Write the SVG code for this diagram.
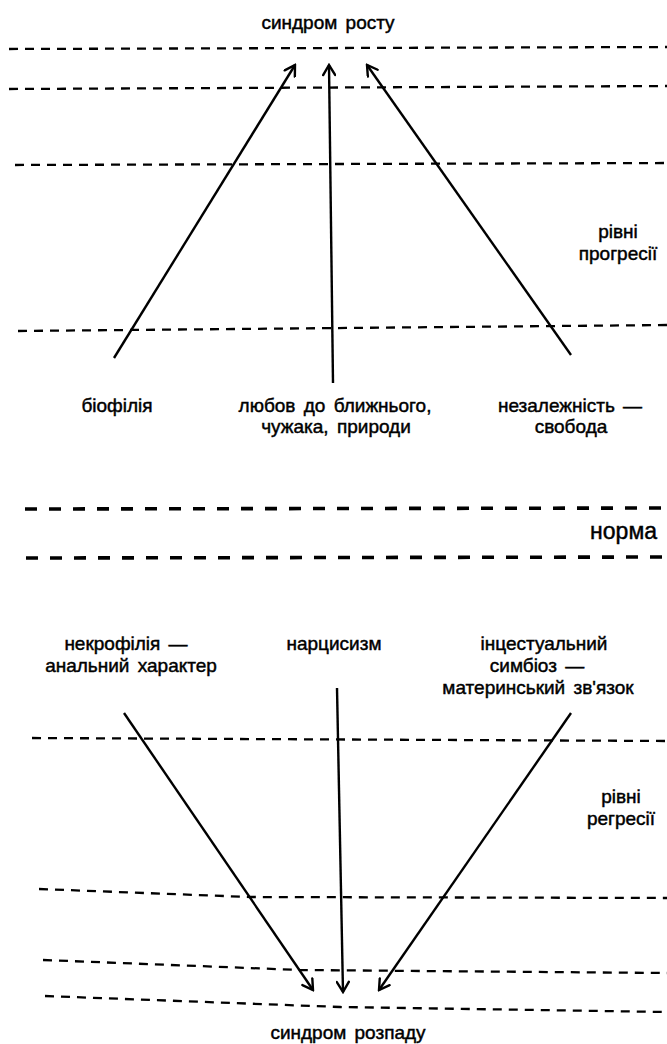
<svg xmlns="http://www.w3.org/2000/svg" width="667" height="1044" viewBox="0 0 667 1044">
<style>
.bg{fill:#fff}
.lvl{fill:none;stroke:#000;stroke-width:2.3;stroke-dasharray:9 7}
.nrm{fill:none;stroke:#000;stroke-width:3.6;stroke-dasharray:12 12}
.arr{fill:none;stroke:#000;stroke-width:2.4;marker-end:url(#ah)}
text{font-family:"Liberation Sans",Arial,sans-serif;font-size:19px;fill:#000;stroke:#000;stroke-width:0.45;text-anchor:middle;word-spacing:3px}
.big{font-size:23px}
</style>
<defs>
<marker id="ah" viewBox="0 0 14 14" refX="12" refY="7" markerWidth="14" markerHeight="14" markerUnits="userSpaceOnUse" orient="auto">
<path d="M2 1 L12 7 L2 13" fill="none" stroke="#000" stroke-width="2.4" stroke-linecap="round" stroke-linejoin="miter"/>
</marker>
</defs>
<rect class="bg" x="0" y="0" width="667" height="1044"/>
<g id="levels">
<path class="lvl" d="M9 49 L667 47"/>
<path class="lvl" d="M9 89 L667 86"/>
<path class="lvl" d="M15 165 L667 163"/>
<path class="lvl" d="M18 331 L667 325"/>
<path class="nrm" d="M25 509 L667 508"/>
<path class="nrm" d="M26 558 L667 557"/>
<path class="lvl" d="M32 738 L667 741"/>
<path class="lvl" d="M39 889 L250 897 L667 898"/>
<path class="lvl" d="M43 960 L300 970 L667 973"/>
<path class="lvl" d="M45 996 L340 1007 L667 1012"/>
</g>
<g id="connectors">
<line class="arr" x1="114" y1="358" x2="295" y2="65"/>
<line class="arr" x1="333" y1="383" x2="329" y2="65"/>
<line class="arr" x1="571" y1="355" x2="367" y2="65"/>
<line class="arr" x1="124" y1="713" x2="313" y2="990"/>
<line class="arr" x1="337" y1="688" x2="343" y2="992"/>
<line class="arr" x1="571" y1="713" x2="379" y2="990"/>
</g>
<g id="growth"><text x="328" y="29">синдром  росту</text></g>
<g id="decay"><text x="348" y="1039">синдром  розпаду</text></g>
<g id="progress"><text x="618" y="238">рівні</text><text x="618" y="260">прогресії</text></g>
<g id="regress"><text x="621" y="803">рівні</text><text x="621" y="825">регресії</text></g>
<g id="norm"><text class="big" x="657" y="539" style="text-anchor:end">норма</text></g>
<g id="biophilia"><text x="117" y="412">біофілія</text></g>
<g id="love"><text x="335" y="412">любов до ближнього,</text><text x="336" y="433">чужака, природи</text></g>
<g id="freedom"><text x="570" y="412">незалежність —</text><text x="571" y="433">свобода</text></g>
<g id="necrophilia"><text x="126" y="650">некрофілія —</text><text x="131" y="672">анальний характер</text></g>
<g id="narcissism"><text x="334" y="650">нарцисизм</text></g>
<g id="symbiosis"><text x="544" y="650">інцестуальний</text><text x="537" y="672">симбіоз —</text><text x="538" y="694">материнський зв'язок</text></g>
</svg>
